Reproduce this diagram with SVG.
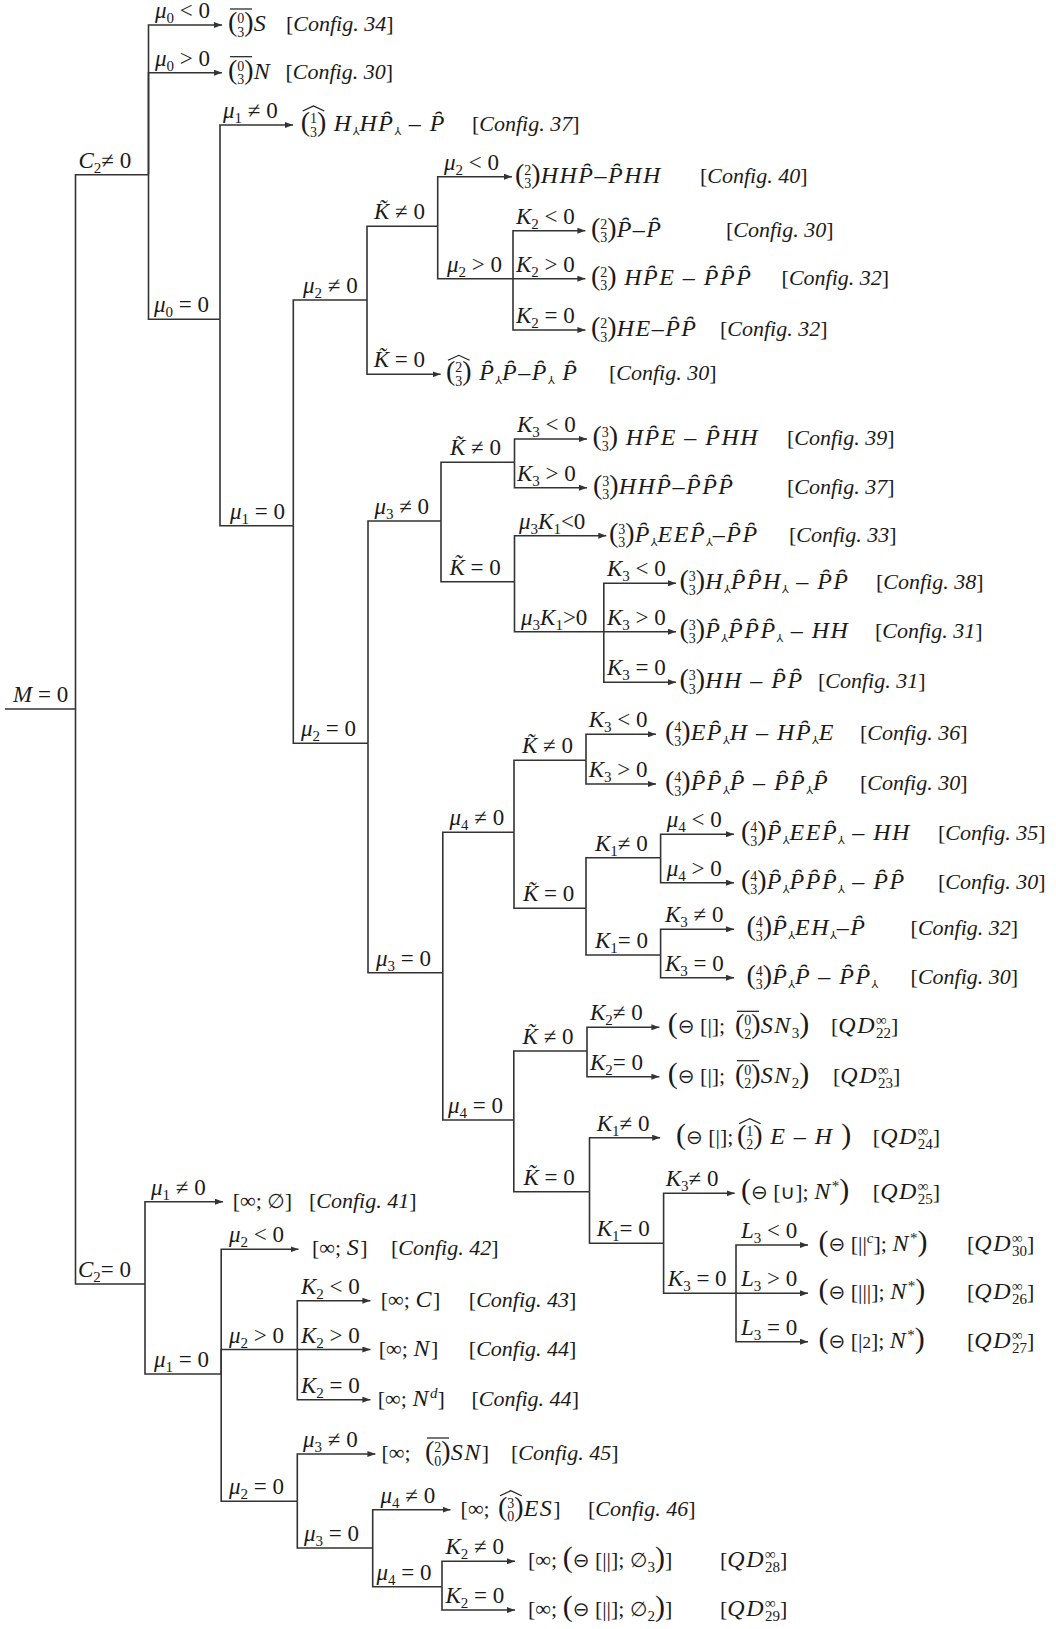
<svg xmlns="http://www.w3.org/2000/svg" width="1056" height="1629" viewBox="0 0 1056 1629">
<style>
.t{font-family:"Liberation Serif","DejaVu Serif",serif;font-size:22px;fill:#1a1a1a}
.i{font-style:italic}
.s{font-size:15px}
.bn{font-size:14px;font-style:normal}
.pl{font-size:28px;font-style:normal}
.bp{font-size:30px;font-style:normal}
.y{font-family:"DejaVu Sans",sans-serif;font-size:11px;font-style:normal}
.g{font-family:"DejaVu Sans",sans-serif;font-size:20px;font-style:normal}
#labels .t{font-size:23px}
#results .i{font-size:24px;letter-spacing:1.5px}
#results .s{font-size:15px;letter-spacing:0}
#results .cf{font-size:22px;letter-spacing:0}
.ln{fill:none;stroke:#333;stroke-width:1.6}
.ar{marker-end:url(#ah)}
.dc{fill:none;stroke:#1a1a1a;stroke-width:1.2}
</style>
<defs>
<marker id="ah" viewBox="0 0 8 6" refX="8" refY="3" markerWidth="8" markerHeight="6" markerUnits="userSpaceOnUse" orient="auto"><path d="M0,0 L8,3 L0,6 z" fill="#333"/></marker>
</defs>
<rect width="1056" height="1629" fill="#fff"/>
<g id="connectors" class="ln">
<path d="M5,709H75.5"/>
<path d="M75.5,709V174.7H148.5"/>
<path d="M75.5,709V1284H145"/>
<path class="ar" d="M148.5,174.7V25H222"/>
<path class="ar" d="M148.5,174.7V72.7H222"/>
<path d="M148.5,174.7V319.3H220"/>
<path class="ar" d="M220,319.3V125H293"/>
<path d="M220,319.3V525.7H293.3"/>
<path d="M293.3,525.7V300H367"/>
<path d="M293.3,525.7V743.3H368"/>
<path d="M367,300V226.3H437.7"/>
<path class="ar" d="M367,300V374.3H440.6"/>
<path class="ar" d="M437.7,226.3V176.7H512"/>
<path d="M437.7,226.3V278.7H513"/>
<path class="ar" d="M513,278.7V230.7H585.4"/>
<path class="ar" d="M513,278.7H585.4"/>
<path class="ar" d="M513,278.7V330H585.4"/>
<path d="M368,743.3V521H441"/>
<path d="M368,743.3V972.7H442.8"/>
<path d="M441,521V462.3H514.5"/>
<path d="M441,521V581.7H514.5"/>
<path class="ar" d="M514.5,462.3V439H587"/>
<path class="ar" d="M514.5,462.3V487.7H587"/>
<path class="ar" d="M514.5,581.7V535.7H606.3"/>
<path d="M514.5,581.7V631.7H603.8"/>
<path class="ar" d="M603.8,631.7V583.3H676"/>
<path class="ar" d="M603.8,631.7H676"/>
<path class="ar" d="M603.8,631.7V682.3H676"/>
<path d="M442.8,972.7V832.3H514"/>
<path d="M442.8,972.7V1120H513.8"/>
<path d="M514,832.3V760.3H586"/>
<path d="M514,832.3V908.3H586"/>
<path class="ar" d="M586,760.3V734.3H656"/>
<path class="ar" d="M586,760.3V784H656"/>
<path d="M586,908.3V857.7H660.6"/>
<path d="M586,908.3V955H660.6"/>
<path class="ar" d="M660.6,857.7V834.3H734"/>
<path class="ar" d="M660.6,857.7V882.7H734"/>
<path class="ar" d="M660.6,955V929.3H734"/>
<path class="ar" d="M660.6,955V977.7H734"/>
<path d="M513.8,1120V1051H587"/>
<path d="M513.8,1120V1191.7H589.5"/>
<path class="ar" d="M587,1051V1027.3H659.4"/>
<path class="ar" d="M587,1051V1076.7H659.4"/>
<path class="ar" d="M589.5,1191.7V1137.7H660.2"/>
<path d="M589.5,1191.7V1243.3H663.6"/>
<path class="ar" d="M663.6,1243.3V1193.3H734.7"/>
<path d="M663.6,1243.3V1293.3H736"/>
<path class="ar" d="M736,1293.3V1245H808"/>
<path class="ar" d="M736,1293.3H808"/>
<path class="ar" d="M736,1293.3V1341.7H808"/>
<path class="ar" d="M145,1284V1201.7H223"/>
<path d="M145,1284V1374H221.2"/>
<path class="ar" d="M221.2,1374V1249.3H298.5"/>
<path d="M221.2,1374V1349.5H297.3"/>
<path d="M221.2,1374V1501.3H297.3"/>
<path class="ar" d="M297.3,1349.5V1300.7H370.4"/>
<path class="ar" d="M297.3,1349.5H370.4"/>
<path class="ar" d="M297.3,1349.5V1399.7H370.4"/>
<path class="ar" d="M297.3,1501.3V1454H375.4"/>
<path d="M297.3,1501.3V1548H372.7"/>
<path class="ar" d="M372.7,1548V1509.7H450.5"/>
<path d="M372.7,1548V1586.7H442"/>
<path class="ar" d="M442,1586.7V1561.3H515"/>
<path class="ar" d="M442,1586.7V1610H515"/>
</g>
<g id="labels">
<g id="n-M0"><text class="t" x="13" y="702"><tspan class="i">M</tspan> = 0</text></g>
<g id="n-C2ne"><text class="t" x="78.5" y="167.7"><tspan class="i">C</tspan><tspan class="s" dy="5">2</tspan><tspan dy="-5">≠ 0</tspan></text></g>
<g id="n-mu0lt"><text class="t" x="155" y="18"><tspan class="i">μ</tspan><tspan class="s" dy="5">0</tspan><tspan dy="-5"> &lt; 0</tspan></text></g>
<g id="n-mu0gt"><text class="t" x="155" y="65.7"><tspan class="i">μ</tspan><tspan class="s" dy="5">0</tspan><tspan dy="-5"> &gt; 0</tspan></text></g>
<g id="n-mu0eq"><text class="t" x="154" y="312.3"><tspan class="i">μ</tspan><tspan class="s" dy="5">0</tspan><tspan dy="-5"> = 0</tspan></text></g>
<g id="n-mu1ne"><text class="t" x="223" y="118"><tspan class="i">μ</tspan><tspan class="s" dy="5">1</tspan><tspan dy="-5"> ≠ 0</tspan></text></g>
<g id="n-mu1eq"><text class="t" x="230" y="518.7"><tspan class="i">μ</tspan><tspan class="s" dy="5">1</tspan><tspan dy="-5"> = 0</tspan></text></g>
<g id="n-mu2ne"><text class="t" x="303" y="293"><tspan class="i">μ</tspan><tspan class="s" dy="5">2</tspan><tspan dy="-5"> ≠ 0</tspan></text></g>
<g id="n-mu2eq"><text class="t" x="301" y="736.3"><tspan class="i">μ</tspan><tspan class="s" dy="5">2</tspan><tspan dy="-5"> = 0</tspan></text></g>
<g id="n-Kne-a"><text class="t" x="374" y="219.3"><tspan class="i">K&#x303;</tspan> ≠ 0</text></g>
<g id="n-Keq-a"><text class="t" x="373.7" y="367.3"><tspan class="i">K&#x303;</tspan> = 0</text></g>
<g id="n-mu2lt-a"><text class="t" x="444" y="169.7"><tspan class="i">μ</tspan><tspan class="s" dy="5">2</tspan><tspan dy="-5"> &lt; 0</tspan></text></g>
<g id="n-mu2gt-a"><text class="t" x="447" y="271.7"><tspan class="i">μ</tspan><tspan class="s" dy="5">2</tspan><tspan dy="-5"> &gt; 0</tspan></text></g>
<g id="n-K2lt-a"><text class="t" x="516" y="223.7"><tspan class="i">K</tspan><tspan class="s" dy="5">2</tspan><tspan dy="-5"> &lt; 0</tspan></text></g>
<g id="n-K2gt-a"><text class="t" x="516" y="271.7"><tspan class="i">K</tspan><tspan class="s" dy="5">2</tspan><tspan dy="-5"> &gt; 0</tspan></text></g>
<g id="n-K2eq-a"><text class="t" x="516" y="323"><tspan class="i">K</tspan><tspan class="s" dy="5">2</tspan><tspan dy="-5"> = 0</tspan></text></g>
<g id="n-mu3ne"><text class="t" x="374.4" y="514"><tspan class="i">μ</tspan><tspan class="s" dy="5">3</tspan><tspan dy="-5"> ≠ 0</tspan></text></g>
<g id="n-mu3eq"><text class="t" x="376" y="965.7"><tspan class="i">μ</tspan><tspan class="s" dy="5">3</tspan><tspan dy="-5"> = 0</tspan></text></g>
<g id="n-Kne-b"><text class="t" x="450" y="455.3"><tspan class="i">K&#x303;</tspan> ≠ 0</text></g>
<g id="n-Keq-b"><text class="t" x="449.5" y="574.7"><tspan class="i">K&#x303;</tspan> = 0</text></g>
<g id="n-K3lt-b"><text class="t" x="517" y="432"><tspan class="i">K</tspan><tspan class="s" dy="5">3</tspan><tspan dy="-5"> &lt; 0</tspan></text></g>
<g id="n-K3gt-b"><text class="t" x="517" y="480.7"><tspan class="i">K</tspan><tspan class="s" dy="5">3</tspan><tspan dy="-5"> &gt; 0</tspan></text></g>
<g id="n-mu3K1lt"><text class="t" x="519" y="528.7"><tspan class="i">μ</tspan><tspan class="s" dy="5">3</tspan><tspan class="i" dy="-5">K</tspan><tspan class="s" dy="5">1</tspan><tspan dy="-5">&lt;0</tspan></text></g>
<g id="n-mu3K1gt"><text class="t" x="521" y="624.7"><tspan class="i">μ</tspan><tspan class="s" dy="5">3</tspan><tspan class="i" dy="-5">K</tspan><tspan class="s" dy="5">1</tspan><tspan dy="-5">&gt;0</tspan></text></g>
<g id="n-K3lt-c"><text class="t" x="607" y="576.3"><tspan class="i">K</tspan><tspan class="s" dy="5">3</tspan><tspan dy="-5"> &lt; 0</tspan></text></g>
<g id="n-K3gt-c"><text class="t" x="607" y="624.7"><tspan class="i">K</tspan><tspan class="s" dy="5">3</tspan><tspan dy="-5"> &gt; 0</tspan></text></g>
<g id="n-K3eq-c"><text class="t" x="607" y="675.3"><tspan class="i">K</tspan><tspan class="s" dy="5">3</tspan><tspan dy="-5"> = 0</tspan></text></g>
<g id="n-mu4ne"><text class="t" x="449.5" y="825.3"><tspan class="i">μ</tspan><tspan class="s" dy="5">4</tspan><tspan dy="-5"> ≠ 0</tspan></text></g>
<g id="n-mu4eq"><text class="t" x="448" y="1113"><tspan class="i">μ</tspan><tspan class="s" dy="5">4</tspan><tspan dy="-5"> = 0</tspan></text></g>
<g id="n-Kne-d"><text class="t" x="522" y="753.3"><tspan class="i">K&#x303;</tspan> ≠ 0</text></g>
<g id="n-Keq-d"><text class="t" x="523" y="901.3"><tspan class="i">K&#x303;</tspan> = 0</text></g>
<g id="n-K3lt-d"><text class="t" x="588.7" y="727.3"><tspan class="i">K</tspan><tspan class="s" dy="5">3</tspan><tspan dy="-5"> &lt; 0</tspan></text></g>
<g id="n-K3gt-d"><text class="t" x="588.7" y="777"><tspan class="i">K</tspan><tspan class="s" dy="5">3</tspan><tspan dy="-5"> &gt; 0</tspan></text></g>
<g id="n-K1ne-d"><text class="t" x="595" y="850.7"><tspan class="i">K</tspan><tspan class="s" dy="5">1</tspan><tspan dy="-5">≠ 0</tspan></text></g>
<g id="n-K1eq-d"><text class="t" x="595" y="948"><tspan class="i">K</tspan><tspan class="s" dy="5">1</tspan><tspan dy="-5">= 0</tspan></text></g>
<g id="n-mu4lt"><text class="t" x="666.7" y="827.3"><tspan class="i">μ</tspan><tspan class="s" dy="5">4</tspan><tspan dy="-5"> &lt; 0</tspan></text></g>
<g id="n-mu4gt"><text class="t" x="666.7" y="875.7"><tspan class="i">μ</tspan><tspan class="s" dy="5">4</tspan><tspan dy="-5"> &gt; 0</tspan></text></g>
<g id="n-K3ne-d"><text class="t" x="665" y="922.3"><tspan class="i">K</tspan><tspan class="s" dy="5">3</tspan><tspan dy="-5"> ≠ 0</tspan></text></g>
<g id="n-K3eq-d"><text class="t" x="665" y="970.7"><tspan class="i">K</tspan><tspan class="s" dy="5">3</tspan><tspan dy="-5"> = 0</tspan></text></g>
<g id="n-Kne-e"><text class="t" x="522.6" y="1044"><tspan class="i">K&#x303;</tspan> ≠ 0</text></g>
<g id="n-Keq-e"><text class="t" x="523.4" y="1184.7"><tspan class="i">K&#x303;</tspan> = 0</text></g>
<g id="n-K2ne-e"><text class="t" x="590" y="1020.3"><tspan class="i">K</tspan><tspan class="s" dy="5">2</tspan><tspan dy="-5">≠ 0</tspan></text></g>
<g id="n-K2eq-e"><text class="t" x="590" y="1069.7"><tspan class="i">K</tspan><tspan class="s" dy="5">2</tspan><tspan dy="-5">= 0</tspan></text></g>
<g id="n-K1ne-e"><text class="t" x="596.7" y="1130.7"><tspan class="i">K</tspan><tspan class="s" dy="5">1</tspan><tspan dy="-5">≠ 0</tspan></text></g>
<g id="n-K1eq-e"><text class="t" x="596.7" y="1236.3"><tspan class="i">K</tspan><tspan class="s" dy="5">1</tspan><tspan dy="-5">= 0</tspan></text></g>
<g id="n-K3ne-e"><text class="t" x="665.7" y="1186.3"><tspan class="i">K</tspan><tspan class="s" dy="5">3</tspan><tspan dy="-5">≠ 0</tspan></text></g>
<g id="n-K3eq-e"><text class="t" x="667.8" y="1286.3"><tspan class="i">K</tspan><tspan class="s" dy="5">3</tspan><tspan dy="-5"> = 0</tspan></text></g>
<g id="n-L3lt"><text class="t" x="741" y="1238"><tspan class="i">L</tspan><tspan class="s" dy="5">3</tspan><tspan dy="-5"> &lt; 0</tspan></text></g>
<g id="n-L3gt"><text class="t" x="741" y="1286.3"><tspan class="i">L</tspan><tspan class="s" dy="5">3</tspan><tspan dy="-5"> &gt; 0</tspan></text></g>
<g id="n-L3eq"><text class="t" x="741" y="1334.7"><tspan class="i">L</tspan><tspan class="s" dy="5">3</tspan><tspan dy="-5"> = 0</tspan></text></g>
<g id="n-C2eq"><text class="t" x="78" y="1277"><tspan class="i">C</tspan><tspan class="s" dy="5">2</tspan><tspan dy="-5">= 0</tspan></text></g>
<g id="n-mu1ne-f"><text class="t" x="151" y="1194.7"><tspan class="i">μ</tspan><tspan class="s" dy="5">1</tspan><tspan dy="-5"> ≠ 0</tspan></text></g>
<g id="n-mu1eq-f"><text class="t" x="154" y="1367"><tspan class="i">μ</tspan><tspan class="s" dy="5">1</tspan><tspan dy="-5"> = 0</tspan></text></g>
<g id="n-mu2lt-f"><text class="t" x="229" y="1242.3"><tspan class="i">μ</tspan><tspan class="s" dy="5">2</tspan><tspan dy="-5"> &lt; 0</tspan></text></g>
<g id="n-mu2gt-f"><text class="t" x="229" y="1342.5"><tspan class="i">μ</tspan><tspan class="s" dy="5">2</tspan><tspan dy="-5"> &gt; 0</tspan></text></g>
<g id="n-mu2eq-f"><text class="t" x="229" y="1494.3"><tspan class="i">μ</tspan><tspan class="s" dy="5">2</tspan><tspan dy="-5"> = 0</tspan></text></g>
<g id="n-K2lt-f"><text class="t" x="301" y="1293.7"><tspan class="i">K</tspan><tspan class="s" dy="5">2</tspan><tspan dy="-5"> &lt; 0</tspan></text></g>
<g id="n-K2gt-f"><text class="t" x="301" y="1342.5"><tspan class="i">K</tspan><tspan class="s" dy="5">2</tspan><tspan dy="-5"> &gt; 0</tspan></text></g>
<g id="n-K2eq-f"><text class="t" x="301" y="1392.7"><tspan class="i">K</tspan><tspan class="s" dy="5">2</tspan><tspan dy="-5"> = 0</tspan></text></g>
<g id="n-mu3ne-f"><text class="t" x="303" y="1447"><tspan class="i">μ</tspan><tspan class="s" dy="5">3</tspan><tspan dy="-5"> ≠ 0</tspan></text></g>
<g id="n-mu3eq-f"><text class="t" x="304" y="1541"><tspan class="i">μ</tspan><tspan class="s" dy="5">3</tspan><tspan dy="-5"> = 0</tspan></text></g>
<g id="n-mu4ne-f"><text class="t" x="380.5" y="1502.7"><tspan class="i">μ</tspan><tspan class="s" dy="5">4</tspan><tspan dy="-5"> ≠ 0</tspan></text></g>
<g id="n-mu4eq-f"><text class="t" x="376.4" y="1579.7"><tspan class="i">μ</tspan><tspan class="s" dy="5">4</tspan><tspan dy="-5"> = 0</tspan></text></g>
<g id="n-K2ne-g"><text class="t" x="445.5" y="1554.3"><tspan class="i">K</tspan><tspan class="s" dy="5">2</tspan><tspan dy="-5"> ≠ 0</tspan></text></g>
<g id="n-K2eq-g"><text class="t" x="445.5" y="1603"><tspan class="i">K</tspan><tspan class="s" dy="5">2</tspan><tspan dy="-5"> = 0</tspan></text></g>
</g>
<g id="results">
<g id="r01"><text class="t" x="228" y="31"><tspan class="pl">(</tspan><tspan class="bn" dy="-8">0</tspan><tspan class="bn" dx="-7" dy="13.5">3</tspan><tspan class="pl" dy="-5.5">)</tspan><tspan class="i">S</tspan></text><path class="dc" d="M230,9H252"/><text class="t" x="286" y="31">[<tspan class="i cf">Config. 34</tspan>]</text></g>
<g id="r02"><text class="t" x="228" y="78.7"><tspan class="pl">(</tspan><tspan class="bn" dy="-8">0</tspan><tspan class="bn" dx="-7" dy="13.5">3</tspan><tspan class="pl" dy="-5.5">)</tspan><tspan class="i">N</tspan></text><path class="dc" d="M230,56.7H252"/><text class="t" x="285.5" y="78.7">[<tspan class="i cf">Config. 30</tspan>]</text></g>
<g id="r03"><text class="t" x="300.7" y="131"><tspan class="pl">(</tspan><tspan class="bn" dy="-8">1</tspan><tspan class="bn" dx="-7" dy="13.5">3</tspan><tspan class="pl" dy="-5.5">)</tspan><tspan class="i"> H</tspan><tspan class="y" dy="4">⅄</tspan><tspan class="i" dy="-4">HP&#x311;</tspan><tspan class="y" dy="4">⅄</tspan><tspan class="i" dy="-4"> – P&#x311;</tspan></text><path class="dc" d="M302.7,111L313.5,106L324.3,111"/><text class="t" x="472" y="131">[<tspan class="i cf">Config. 37</tspan>]</text></g>
<g id="r04"><text class="t" x="515" y="182.7"><tspan class="pl">(</tspan><tspan class="bn" dy="-8">2</tspan><tspan class="bn" dx="-7" dy="13.5">3</tspan><tspan class="pl" dy="-5.5">)</tspan><tspan class="i">HHP&#x311;–P&#x311;HH</tspan></text><text class="t" x="700" y="182.7">[<tspan class="i cf">Config. 40</tspan>]</text></g>
<g id="r05"><text class="t" x="591" y="236.7"><tspan class="pl">(</tspan><tspan class="bn" dy="-8">2</tspan><tspan class="bn" dx="-7" dy="13.5">3</tspan><tspan class="pl" dy="-5.5">)</tspan><tspan class="i">P&#x311;–P&#x311;</tspan></text><text class="t" x="726" y="236.7">[<tspan class="i cf">Config. 30</tspan>]</text></g>
<g id="r06"><text class="t" x="591" y="284.7"><tspan class="pl">(</tspan><tspan class="bn" dy="-8">2</tspan><tspan class="bn" dx="-7" dy="13.5">3</tspan><tspan class="pl" dy="-5.5">)</tspan><tspan class="i"> HP&#x311;E – P&#x311;P&#x311;P&#x311;</tspan></text><text class="t" x="781.6" y="284.7">[<tspan class="i cf">Config. 32</tspan>]</text></g>
<g id="r07"><text class="t" x="591" y="336"><tspan class="pl">(</tspan><tspan class="bn" dy="-8">2</tspan><tspan class="bn" dx="-7" dy="13.5">3</tspan><tspan class="pl" dy="-5.5">)</tspan><tspan class="i">HE–P&#x311;P&#x311;</tspan></text><text class="t" x="720" y="336">[<tspan class="i cf">Config. 32</tspan>]</text></g>
<g id="r08"><text class="t" x="446" y="380.3"><tspan class="pl">(</tspan><tspan class="bn" dy="-8">2</tspan><tspan class="bn" dx="-7" dy="13.5">3</tspan><tspan class="pl" dy="-5.5">)</tspan><tspan class="i"> P&#x311;</tspan><tspan class="y" dy="4">⅄</tspan><tspan class="i" dy="-4">P&#x311;–P&#x311;</tspan><tspan class="y" dy="4">⅄</tspan><tspan class="i" dy="-4"> P&#x311;</tspan></text><path class="dc" d="M448,360.3L458.8,355.3L469.6,360.3"/><text class="t" x="609" y="380.3">[<tspan class="i cf">Config. 30</tspan>]</text></g>
<g id="r09"><text class="t" x="592.5" y="445"><tspan class="pl">(</tspan><tspan class="bn" dy="-8">3</tspan><tspan class="bn" dx="-7" dy="13.5">3</tspan><tspan class="pl" dy="-5.5">)</tspan><tspan class="i"> HP&#x311;E – P&#x311;HH</tspan></text><text class="t" x="787" y="445">[<tspan class="i cf">Config. 39</tspan>]</text></g>
<g id="r10"><text class="t" x="593" y="493.7"><tspan class="pl">(</tspan><tspan class="bn" dy="-8">3</tspan><tspan class="bn" dx="-7" dy="13.5">3</tspan><tspan class="pl" dy="-5.5">)</tspan><tspan class="i">HHP&#x311;–P&#x311;P&#x311;P&#x311;</tspan></text><text class="t" x="787" y="493.7">[<tspan class="i cf">Config. 37</tspan>]</text></g>
<g id="r11"><text class="t" x="609" y="541.7"><tspan class="pl">(</tspan><tspan class="bn" dy="-8">3</tspan><tspan class="bn" dx="-7" dy="13.5">3</tspan><tspan class="pl" dy="-5.5">)</tspan><tspan class="i">P&#x311;</tspan><tspan class="y" dy="4">⅄</tspan><tspan class="i" dy="-4">EEP&#x311;</tspan><tspan class="y" dy="4">⅄</tspan><tspan class="i" dy="-4">–P&#x311;P&#x311;</tspan></text><text class="t" x="789" y="541.7">[<tspan class="i cf">Config. 33</tspan>]</text></g>
<g id="r12"><text class="t" x="679.5" y="589.3"><tspan class="pl">(</tspan><tspan class="bn" dy="-8">3</tspan><tspan class="bn" dx="-7" dy="13.5">3</tspan><tspan class="pl" dy="-5.5">)</tspan><tspan class="i">H</tspan><tspan class="y" dy="4">⅄</tspan><tspan class="i" dy="-4">P&#x311;P&#x311;H</tspan><tspan class="y" dy="4">⅄</tspan><tspan class="i" dy="-4"> – P&#x311;P&#x311;</tspan></text><text class="t" x="876" y="589.3">[<tspan class="i cf">Config. 38</tspan>]</text></g>
<g id="r13"><text class="t" x="679.5" y="637.7"><tspan class="pl">(</tspan><tspan class="bn" dy="-8">3</tspan><tspan class="bn" dx="-7" dy="13.5">3</tspan><tspan class="pl" dy="-5.5">)</tspan><tspan class="i">P&#x311;</tspan><tspan class="y" dy="4">⅄</tspan><tspan class="i" dy="-4">P&#x311;P&#x311;P&#x311;</tspan><tspan class="y" dy="4">⅄</tspan><tspan class="i" dy="-4"> – HH</tspan></text><text class="t" x="875" y="637.7">[<tspan class="i cf">Config. 31</tspan>]</text></g>
<g id="r14"><text class="t" x="679.5" y="688.3"><tspan class="pl">(</tspan><tspan class="bn" dy="-8">3</tspan><tspan class="bn" dx="-7" dy="13.5">3</tspan><tspan class="pl" dy="-5.5">)</tspan><tspan class="i">HH – P&#x311;P&#x311;</tspan></text><text class="t" x="818" y="688.3">[<tspan class="i cf">Config. 31</tspan>]</text></g>
<g id="r15"><text class="t" x="665" y="740.3"><tspan class="pl">(</tspan><tspan class="bn" dy="-8">4</tspan><tspan class="bn" dx="-7" dy="13.5">3</tspan><tspan class="pl" dy="-5.5">)</tspan><tspan class="i">EP&#x311;</tspan><tspan class="y" dy="4">⅄</tspan><tspan class="i" dy="-4">H – HP&#x311;</tspan><tspan class="y" dy="4">⅄</tspan><tspan class="i" dy="-4">E</tspan></text><text class="t" x="860" y="740.3">[<tspan class="i cf">Config. 36</tspan>]</text></g>
<g id="r16"><text class="t" x="665" y="790"><tspan class="pl">(</tspan><tspan class="bn" dy="-8">4</tspan><tspan class="bn" dx="-7" dy="13.5">3</tspan><tspan class="pl" dy="-5.5">)</tspan><tspan class="i">P&#x311;P&#x311;</tspan><tspan class="y" dy="4">⅄</tspan><tspan class="i" dy="-4">P&#x311; – P&#x311;P&#x311;</tspan><tspan class="y" dy="4">⅄</tspan><tspan class="i" dy="-4">P&#x311;</tspan></text><text class="t" x="860" y="790">[<tspan class="i cf">Config. 30</tspan>]</text></g>
<g id="r17"><text class="t" x="741" y="840.3"><tspan class="pl">(</tspan><tspan class="bn" dy="-8">4</tspan><tspan class="bn" dx="-7" dy="13.5">3</tspan><tspan class="pl" dy="-5.5">)</tspan><tspan class="i">P&#x311;</tspan><tspan class="y" dy="4">⅄</tspan><tspan class="i" dy="-4">EEP&#x311;</tspan><tspan class="y" dy="4">⅄</tspan><tspan class="i" dy="-4"> – HH</tspan></text><text class="t" x="938" y="840.3">[<tspan class="i cf">Config. 35</tspan>]</text></g>
<g id="r18"><text class="t" x="741" y="888.7"><tspan class="pl">(</tspan><tspan class="bn" dy="-8">4</tspan><tspan class="bn" dx="-7" dy="13.5">3</tspan><tspan class="pl" dy="-5.5">)</tspan><tspan class="i">P&#x311;</tspan><tspan class="y" dy="4">⅄</tspan><tspan class="i" dy="-4">P&#x311;P&#x311;P&#x311;</tspan><tspan class="y" dy="4">⅄</tspan><tspan class="i" dy="-4"> – P&#x311;P&#x311;</tspan></text><text class="t" x="938" y="888.7">[<tspan class="i cf">Config. 30</tspan>]</text></g>
<g id="r19"><text class="t" x="746.5" y="935.3"><tspan class="pl">(</tspan><tspan class="bn" dy="-8">4</tspan><tspan class="bn" dx="-7" dy="13.5">3</tspan><tspan class="pl" dy="-5.5">)</tspan><tspan class="i">P&#x311;</tspan><tspan class="y" dy="4">⅄</tspan><tspan class="i" dy="-4">EH</tspan><tspan class="y" dy="4">⅄</tspan><tspan class="i" dy="-4">–P&#x311;</tspan></text><text class="t" x="910.6" y="935.3">[<tspan class="i cf">Config. 32</tspan>]</text></g>
<g id="r20"><text class="t" x="746.5" y="983.7"><tspan class="pl">(</tspan><tspan class="bn" dy="-8">4</tspan><tspan class="bn" dx="-7" dy="13.5">3</tspan><tspan class="pl" dy="-5.5">)</tspan><tspan class="i">P&#x311;</tspan><tspan class="y" dy="4">⅄</tspan><tspan class="i" dy="-4">P&#x311; – P&#x311;P&#x311;</tspan><tspan class="y" dy="4">⅄</tspan></text><text class="t" x="910.6" y="983.7">[<tspan class="i cf">Config. 30</tspan>]</text></g>
<g id="r21"><text class="t" x="667.8" y="1033.3"><tspan class="bp">(</tspan><tspan class="g">⊖</tspan> [|];<tspan class="pl" x="735">(</tspan><tspan class="bn" dy="-8">0</tspan><tspan class="bn" dx="-7" dy="13.5">2</tspan><tspan class="pl" dy="-5.5">)</tspan><tspan class="i">SN</tspan><tspan class="s" dy="5">3</tspan><tspan class="bp" dy="-5">)</tspan></text><path class="dc" d="M737,1011.3H759"/><text class="t" x="831" y="1033.3">[<tspan class="i">QD</tspan><tspan class="s" dy="-8">∞</tspan><tspan class="s" dx="-10.7" dy="13">22</tspan><tspan dy="-5">]</tspan></text></g>
<g id="r22"><text class="t" x="667.8" y="1082.7"><tspan class="bp">(</tspan><tspan class="g">⊖</tspan> [|];<tspan class="pl" x="735">(</tspan><tspan class="bn" dy="-8">0</tspan><tspan class="bn" dx="-7" dy="13.5">2</tspan><tspan class="pl" dy="-5.5">)</tspan><tspan class="i">SN</tspan><tspan class="s" dy="5">2</tspan><tspan class="bp" dy="-5">)</tspan></text><path class="dc" d="M737,1060.7H759"/><text class="t" x="833" y="1082.7">[<tspan class="i">QD</tspan><tspan class="s" dy="-8">∞</tspan><tspan class="s" dx="-10.7" dy="13">23</tspan><tspan dy="-5">]</tspan></text></g>
<g id="r23"><text class="t" x="676" y="1143.7"><tspan class="bp">(</tspan><tspan class="g">⊖</tspan> [|];<tspan class="pl" x="737">(</tspan><tspan class="bn" dy="-8">1</tspan><tspan class="bn" dx="-7" dy="13.5">2</tspan><tspan class="pl" dy="-5.5">)</tspan><tspan class="i"> E – H </tspan><tspan class="bp">)</tspan></text><path class="dc" d="M739,1123.7L749.8,1118.7L760.6,1123.7"/><text class="t" x="872.8" y="1143.7">[<tspan class="i">QD</tspan><tspan class="s" dy="-8">∞</tspan><tspan class="s" dx="-10.7" dy="13">24</tspan><tspan dy="-5">]</tspan></text></g>
<g id="r24"><text class="t" x="741" y="1199.3"><tspan class="bp">(</tspan><tspan class="g">⊖</tspan> [<tspan class="g">∪</tspan>]; <tspan class="i">N</tspan><tspan class="s" dy="-8">*</tspan><tspan class="bp" dy="8">)</tspan></text><text class="t" x="872.8" y="1199.3">[<tspan class="i">QD</tspan><tspan class="s" dy="-8">∞</tspan><tspan class="s" dx="-10.7" dy="13">25</tspan><tspan dy="-5">]</tspan></text></g>
<g id="r25"><text class="t" x="818.4" y="1251"><tspan class="bp">(</tspan><tspan class="g">⊖</tspan> [||<tspan class="s i" dy="-8">c</tspan><tspan dy="8">];</tspan> <tspan class="i">N</tspan><tspan class="s" dy="-8">*</tspan><tspan class="bp" dy="8">)</tspan></text><text class="t" x="967" y="1251">[<tspan class="i">QD</tspan><tspan class="s" dy="-8">∞</tspan><tspan class="s" dx="-10.7" dy="13">30</tspan><tspan dy="-5">]</tspan></text></g>
<g id="r26"><text class="t" x="818.4" y="1299.3"><tspan class="bp">(</tspan><tspan class="g">⊖</tspan> [|||]; <tspan class="i">N</tspan><tspan class="s" dy="-8">*</tspan><tspan class="bp" dy="8">)</tspan></text><text class="t" x="967" y="1299.3">[<tspan class="i">QD</tspan><tspan class="s" dy="-8">∞</tspan><tspan class="s" dx="-10.7" dy="13">26</tspan><tspan dy="-5">]</tspan></text></g>
<g id="r27"><text class="t" x="818.4" y="1347.7"><tspan class="bp">(</tspan><tspan class="g">⊖</tspan> [|<tspan style="font-size:17px">2</tspan>]; <tspan class="i">N</tspan><tspan class="s" dy="-8">*</tspan><tspan class="bp" dy="8">)</tspan></text><text class="t" x="967" y="1347.7">[<tspan class="i">QD</tspan><tspan class="s" dy="-8">∞</tspan><tspan class="s" dx="-10.7" dy="13">27</tspan><tspan dy="-5">]</tspan></text></g>
<g id="r28"><text class="t" x="232.7" y="1207.7">[∞; <tspan class="g">∅</tspan>]</text><text class="t" x="309" y="1207.7">[<tspan class="i cf">Config. 41</tspan>]</text></g>
<g id="r29"><text class="t" x="312" y="1255.3">[∞; <tspan class="i">S</tspan>]</text><text class="t" x="391" y="1255.3">[<tspan class="i cf">Config. 42</tspan>]</text></g>
<g id="r30"><text class="t" x="380.8" y="1306.7">[∞; <tspan class="i">C</tspan>]</text><text class="t" x="468.8" y="1306.7">[<tspan class="i cf">Config. 43</tspan>]</text></g>
<g id="r31"><text class="t" x="378.8" y="1355.5">[∞; <tspan class="i">N</tspan>]</text><text class="t" x="468.8" y="1355.5">[<tspan class="i cf">Config. 44</tspan>]</text></g>
<g id="r32"><text class="t" x="377.8" y="1405.7">[∞; <tspan class="i">N</tspan><tspan class="s i" dy="-8">d</tspan><tspan dy="8">]</tspan></text><text class="t" x="471.4" y="1405.7">[<tspan class="i cf">Config. 44</tspan>]</text></g>
<g id="r33"><text class="t" x="381.5" y="1460">[∞;<tspan class="pl" x="425">(</tspan><tspan class="bn" dy="-8">2</tspan><tspan class="bn" dx="-7" dy="13.5">0</tspan><tspan class="pl" dy="-5.5">)</tspan><tspan class="i">SN</tspan>]</text><path class="dc" d="M427,1438H449"/><text class="t" x="511" y="1460">[<tspan class="i cf">Config. 45</tspan>]</text></g>
<g id="r34"><text class="t" x="460.6" y="1515.7">[∞;<tspan class="pl" x="498">(</tspan><tspan class="bn" dy="-8">3</tspan><tspan class="bn" dx="-7" dy="13.5">0</tspan><tspan class="pl" dy="-5.5">)</tspan><tspan class="i">ES</tspan>]</text><path class="dc" d="M500,1495.7L510.8,1490.7L521.6,1495.7"/><text class="t" x="588" y="1515.7">[<tspan class="i cf">Config. 46</tspan>]</text></g>
<g id="r35"><text class="t" x="528" y="1567.3">[∞; <tspan class="bp">(</tspan><tspan class="g">⊖</tspan> [||]; <tspan class="g">∅</tspan><tspan class="s" dy="5">3</tspan><tspan class="bp" dy="-5">)</tspan>]</text><text class="t" x="720" y="1567.3">[<tspan class="i">QD</tspan><tspan class="s" dy="-8">∞</tspan><tspan class="s" dx="-10.7" dy="13">28</tspan><tspan dy="-5">]</tspan></text></g>
<g id="r36"><text class="t" x="528" y="1616">[∞; <tspan class="bp">(</tspan><tspan class="g">⊖</tspan> [||]; <tspan class="g">∅</tspan><tspan class="s" dy="5">2</tspan><tspan class="bp" dy="-5">)</tspan>]</text><text class="t" x="720" y="1616">[<tspan class="i">QD</tspan><tspan class="s" dy="-8">∞</tspan><tspan class="s" dx="-10.7" dy="13">29</tspan><tspan dy="-5">]</tspan></text></g>
</g>
</svg>
